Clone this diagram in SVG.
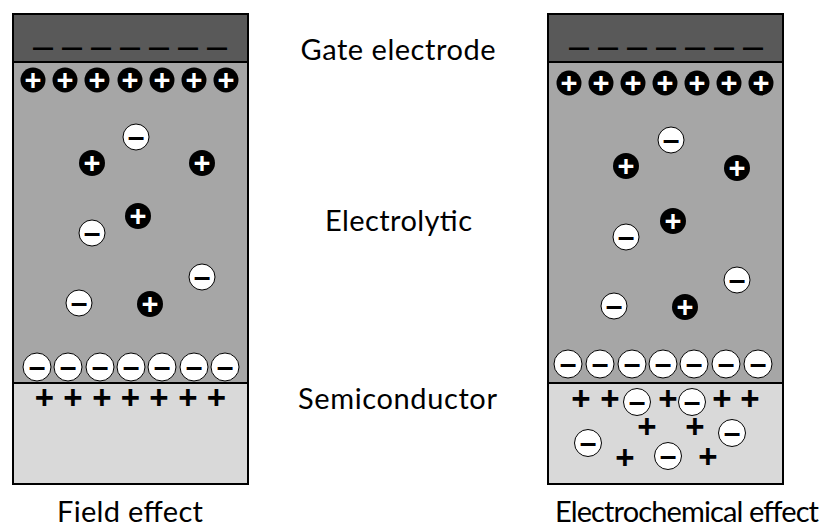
<svg xmlns="http://www.w3.org/2000/svg" width="822" height="529" viewBox="0 0 822 529">
<style>
.gate{fill:#595959;stroke:#000;stroke-width:2}
.elec{fill:#a6a6a6;stroke:#000;stroke-width:2}
.semi{fill:#d9d9d9;stroke:#000;stroke-width:2}
.pc{fill:#000}
.nc{fill:#fff;stroke:#000;stroke-width:1}
.pt{fill:#fff;font-family:"Liberation Sans",Arial,sans-serif;font-weight:bold;font-size:29px;text-anchor:middle}
.nt{fill:#000;font-family:"Liberation Sans",Arial,sans-serif;font-weight:bold;font-size:30px;text-anchor:middle}
.dash{fill:#000;font-family:"Liberation Sans",Arial,sans-serif;font-size:36px;text-anchor:middle}
.sp{fill:#000;font-family:"Liberation Sans",Arial,sans-serif;font-weight:bold;font-size:33px;text-anchor:middle}
.lbl{fill:#000;font-family:Lato,"Open Sans","Liberation Sans",sans-serif;font-size:29px;text-anchor:middle}
</style>

<g id="field-effect">
  <rect class="gate" x="13" y="14" width="235" height="48"/>
  <rect class="elec" x="13" y="62" width="235" height="321"/>
  <rect class="semi" x="13" y="383" width="235" height="101"/>
  <text class="dash" x="43 72 101 130 159 188 217" y="58">–––––––</text>
  <g class="cations">
    <circle class="pc" cx="33" cy="80" r="12.5"/><text class="pt" x="33" y="90">+</text>
    <circle class="pc" cx="65" cy="80" r="12.5"/><text class="pt" x="65" y="90">+</text>
    <circle class="pc" cx="97" cy="80" r="12.5"/><text class="pt" x="97" y="90">+</text>
    <circle class="pc" cx="130" cy="80" r="12.5"/><text class="pt" x="130" y="90">+</text>
    <circle class="pc" cx="162" cy="80" r="12.5"/><text class="pt" x="162" y="90">+</text>
    <circle class="pc" cx="194" cy="80" r="12.5"/><text class="pt" x="194" y="90">+</text>
    <circle class="pc" cx="226" cy="80" r="12.5"/><text class="pt" x="226" y="90">+</text>
    <circle class="pc" cx="92" cy="163" r="13"/><text class="pt" x="92" y="173">+</text>
    <circle class="pc" cx="202" cy="163" r="13"/><text class="pt" x="202" y="173">+</text>
    <circle class="pc" cx="138" cy="216" r="13"/><text class="pt" x="138" y="226">+</text>
    <circle class="pc" cx="150" cy="304" r="13"/><text class="pt" x="150" y="314">+</text>
  </g>
  <g class="anions">
    <circle class="nc" cx="136" cy="137" r="13"/><text class="nt" x="136" y="147">–</text>
    <circle class="nc" cx="92" cy="233" r="13"/><text class="nt" x="92" y="243">–</text>
    <circle class="nc" cx="202" cy="277" r="13"/><text class="nt" x="202" y="287">–</text>
    <circle class="nc" cx="79" cy="303" r="13"/><text class="nt" x="79" y="313">–</text>
    <circle class="nc" cx="37" cy="367" r="14"/><text class="nt" x="37" y="377">–</text>
    <circle class="nc" cx="68" cy="367" r="14"/><text class="nt" x="68" y="377">–</text>
    <circle class="nc" cx="100" cy="367" r="14"/><text class="nt" x="100" y="377">–</text>
    <circle class="nc" cx="131" cy="367" r="14"/><text class="nt" x="131" y="377">–</text>
    <circle class="nc" cx="162" cy="367" r="14"/><text class="nt" x="162" y="377">–</text>
    <circle class="nc" cx="194" cy="367" r="14"/><text class="nt" x="194" y="377">–</text>
    <circle class="nc" cx="225" cy="367" r="14"/><text class="nt" x="225" y="377">–</text>
  </g>
  <text class="sp" x="44.5 73 102 130.5 159 188 216.5" y="408.7">+++++++</text>
</g>

<g id="electrochemical-effect">
  <rect class="gate" x="548" y="14" width="235" height="48"/>
  <rect class="elec" x="548" y="62" width="235" height="321"/>
  <rect class="semi" x="548" y="383" width="235" height="101"/>
  <text class="dash" x="579 608 637 666 695 724 753" y="58">–––––––</text>
  <g class="cations">
    <circle class="pc" cx="569" cy="83" r="12.5"/><text class="pt" x="569" y="93">+</text>
    <circle class="pc" cx="601" cy="83" r="12.5"/><text class="pt" x="601" y="93">+</text>
    <circle class="pc" cx="633" cy="83" r="12.5"/><text class="pt" x="633" y="93">+</text>
    <circle class="pc" cx="665" cy="83" r="12.5"/><text class="pt" x="665" y="93">+</text>
    <circle class="pc" cx="697" cy="83" r="12.5"/><text class="pt" x="697" y="93">+</text>
    <circle class="pc" cx="729" cy="83" r="12.5"/><text class="pt" x="729" y="93">+</text>
    <circle class="pc" cx="761" cy="83" r="12.5"/><text class="pt" x="761" y="93">+</text>
    <circle class="pc" cx="626" cy="166" r="13"/><text class="pt" x="626" y="176">+</text>
    <circle class="pc" cx="737" cy="168" r="13"/><text class="pt" x="737" y="178">+</text>
    <circle class="pc" cx="673" cy="221" r="13"/><text class="pt" x="673" y="231">+</text>
    <circle class="pc" cx="685" cy="307" r="13"/><text class="pt" x="685" y="317">+</text>
  </g>
  <g class="anions">
    <circle class="nc" cx="671" cy="140" r="13"/><text class="nt" x="671" y="150">–</text>
    <circle class="nc" cx="626" cy="237" r="13"/><text class="nt" x="626" y="247">–</text>
    <circle class="nc" cx="737" cy="280" r="13"/><text class="nt" x="737" y="290">–</text>
    <circle class="nc" cx="614" cy="306" r="13"/><text class="nt" x="614" y="316">–</text>
    <circle class="nc" cx="568" cy="364" r="14"/><text class="nt" x="568" y="374">–</text>
    <circle class="nc" cx="600" cy="364" r="14"/><text class="nt" x="600" y="374">–</text>
    <circle class="nc" cx="632" cy="364" r="14"/><text class="nt" x="632" y="374">–</text>
    <circle class="nc" cx="663" cy="364" r="14"/><text class="nt" x="663" y="374">–</text>
    <circle class="nc" cx="694" cy="364" r="14"/><text class="nt" x="694" y="374">–</text>
    <circle class="nc" cx="726" cy="364" r="14"/><text class="nt" x="726" y="374">–</text>
    <circle class="nc" cx="758" cy="364" r="14"/><text class="nt" x="758" y="374">–</text>
  </g>
  <g class="holes">
    <text class="sp" x="581" y="409.7">+</text>
    <text class="sp" x="610" y="409.7">+</text>
    <text class="sp" x="668" y="409.7">+</text>
    <text class="sp" x="722" y="409.7">+</text>
    <text class="sp" x="750" y="409.7">+</text>
    <text class="sp" x="647" y="438.4">+</text>
    <text class="sp" x="695" y="438.4">+</text>
    <text class="sp" x="625" y="468.7">+</text>
    <text class="sp" x="708" y="467.7">+</text>
  </g>
  <g class="semi-anions">
    <circle class="nc" cx="637" cy="402" r="13.5"/><text class="nt" x="637" y="412">–</text>
    <circle class="nc" cx="692" cy="402" r="13.5"/><text class="nt" x="692" y="412">–</text>
    <circle class="nc" cx="588" cy="443" r="13.5"/><text class="nt" x="588" y="453">–</text>
    <circle class="nc" cx="732" cy="433" r="13.5"/><text class="nt" x="732" y="443">–</text>
    <circle class="nc" cx="668" cy="456" r="13.5"/><text class="nt" x="668" y="466">–</text>
  </g>
</g>

<g id="labels">
  <text class="lbl" x="398" y="60" textLength="195">Gate electrode</text>
  <text class="lbl" x="398.5" y="231" textLength="147">Electrolytic</text>
  <text class="lbl" x="397.5" y="409" textLength="199">Semiconductor</text>
  <text class="lbl" x="130" y="522" textLength="146">Field effect</text>
  <text class="lbl" x="687" y="522" textLength="264">Electrochemical effect</text>
</g>
</svg>
